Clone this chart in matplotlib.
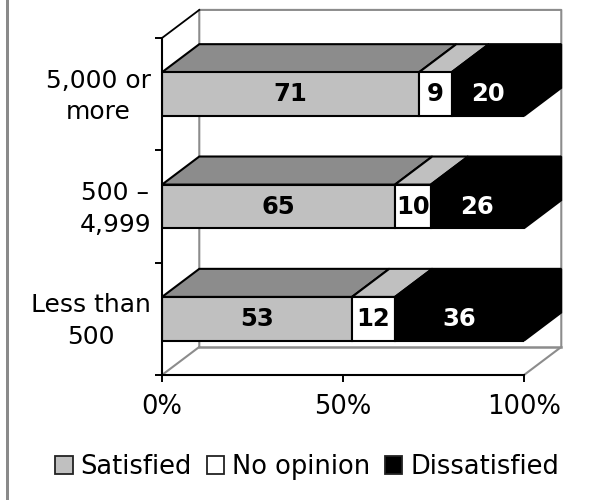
import matplotlib
matplotlib.use('Agg')
import matplotlib.pyplot as plt
from matplotlib.patches import Polygon, Rectangle
from matplotlib.transforms import ScaledTranslation

W = 598
H = 500

# bottom to top
categories = ['Less than\n500', '500 \u2013\n4,999', '5,000 or\nmore']
satisfied = [53, 65, 71]
no_opinion = [12, 10, 9]
dissatisfied = [36, 26, 20]
series_names = ['Satisfied', 'No opinion', 'Dissatisfied']
x_ticks = [0, 50, 100]
x_tick_labels = ['0%', '50%', '100%']

front_colors = ['#c0c0c0', '#ffffff', '#000000']
top_colors = ['#8c8c8c', '#c0c0c0', '#000000']
text_colors = ['black', 'black', 'white']

fig = plt.figure(figsize=(W / 100, H / 100), dpi=100)
ax = fig.add_axes([162 / W, 1 - 375 / H, 362 / W, 337 / H])
ax.set_xlim(0, 100)
ax.set_ylim(-0.5, 2.5)

# 3d offset of the back wall, in data units
dx = 10.3
dy = 0.25
bar_h = 0.39
wall = '#8c8c8c'

# left page rule
fig.add_artist(Rectangle((6 / W, 0), 3 / W, 1, transform=fig.transFigure, color='#8a8a8a', lw=0))

# back wall and floor
ax.plot([dx, dx, 100 + dx, 100 + dx, 100], [-0.5 + dy, 2.5 + dy, 2.5 + dy, -0.5 + dy, -0.5],
        color=wall, lw=1.5, clip_on=False, zorder=1)
ax.plot([dx, 100 + dx], [-0.5 + dy, -0.5 + dy], color=wall, lw=1.8, clip_on=False, zorder=1)
ax.plot([0, dx], [-0.5, -0.5 + dy], color=wall, lw=1.5, clip_on=False, zorder=1)
ax.plot([0, dx], [2.5, 2.5 + dy], color='black', lw=1.3, clip_on=False, zorder=1)

for i in range(len(categories)):
    values = [satisfied[i], no_opinion[i], dissatisfied[i]]
    total = sum(values)
    left = 0
    for j, v in enumerate(values):
        w = v * 100 / total
        top = i + bar_h / 2
        ax.barh(i, w, bar_h, left=left, color=front_colors[j], edgecolor='black', lw=1.5, zorder=3)
        ax.add_patch(Polygon([(left, top), (left + dx, top + dy), (left + w + dx, top + dy), (left + w, top)],
                             facecolor=top_colors[j], edgecolor='black', lw=1.5, clip_on=False, zorder=2))
        if j == 2:
            ax.add_patch(Polygon([(100, top), (100 + dx, top + dy), (100 + dx, top + dy - bar_h), (100, top - bar_h)],
                                 facecolor='black', edgecolor='black', lw=1.3, clip_on=False, zorder=2))
        ax.text(left + w / 2, i, str(v), ha='center', va='center', color=text_colors[j],
                fontsize=17.5, fontweight='bold', zorder=4)
        left += w

for s in ['top', 'right']:
    ax.spines[s].set_visible(False)
for s in ['left', 'bottom']:
    ax.spines[s].set_linewidth(1.5)
    ax.spines[s].set_zorder(5)
ax.patch.set_alpha(0)

ax.set_xticks(x_ticks)
ax.set_xticklabels(x_tick_labels, fontsize=18.5)
ax.tick_params(axis='x', length=5, width=1.4, pad=9)
ax.set_yticks([-0.5, 0.5, 1.5, 2.5])
ax.set_yticklabels([])
ax.tick_params(axis='y', which='major', length=5, width=1.4)
ax.set_yticks([0, 1, 2], minor=True)
ax.set_yticklabels(categories, minor=True, fontsize=18, multialignment='center', linespacing=1.4)
ax.tick_params(axis='y', which='minor', length=0, pad=8)

# nudge the two line labels up a bit
nudge = ScaledTranslation(0, 4 / 100, fig.dpi_scale_trans)
for label in ax.get_yticklabels(minor=True):
    label.set_transform(label.get_transform() + nudge)

handles = [Rectangle((0, 0), 1, 1, facecolor=c, edgecolor='#222222', lw=1.3) for c in front_colors]
fig.legend(handles, series_names, loc='center', bbox_to_anchor=(307 / W, 1 - 467 / H), ncol=3,
           frameon=False, fontsize=18.5, handlelength=0.68, handleheight=0.68,
           handletextpad=0.3, columnspacing=0.58, borderpad=0, borderaxespad=0)

fig.savefig('out.png', dpi=100)
